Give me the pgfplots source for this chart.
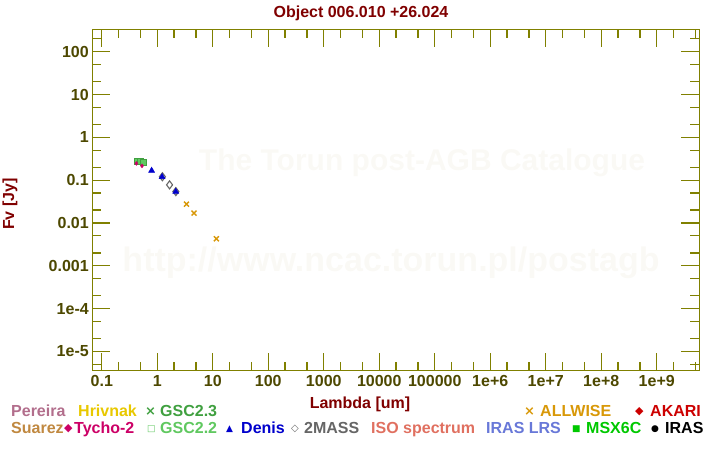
\documentclass[border=0pt]{standalone}
\usepackage{fontspec}
\setmainfont{Liberation Sans}
\newfontfamily\symfont{DejaVu Sans}
\usepackage{pgfplots}
\pgfplotsset{compat=1.18}
\definecolor{axcol}{RGB}{128,128,0}
\definecolor{tickcol}{RGB}{77,72,0}
\definecolor{darkred}{RGB}{128,0,0}
\definecolor{wmcol}{RGB}{250,249,245}
\definecolor{cPereira}{RGB}{178,110,140}
\definecolor{cHrivnak}{RGB}{232,200,0}
\definecolor{cGSCiii}{RGB}{64,160,64}
\definecolor{cSuarez}{RGB}{192,136,64}
\definecolor{cTycho}{RGB}{204,0,102}
\definecolor{cGSCii}{RGB}{96,200,96}
\definecolor{cDenis}{RGB}{0,0,204}
\definecolor{cTwoMASS}{RGB}{102,102,102}
\definecolor{cISO}{RGB}{224,112,96}
\definecolor{cLRS}{RGB}{104,120,216}
\definecolor{cMSX}{RGB}{0,200,0}
\definecolor{cIRAS}{RGB}{0,0,0}
\definecolor{cWISE}{RGB}{216,152,8}
\definecolor{cAKARI}{RGB}{204,0,0}
\newcommand{\lf}{\fontsize{16}{16}\selectfont\bfseries}
\begin{document}
\begin{tikzpicture}[x=1pt,y=1pt]
\path[use as bounding box] (0,0) rectangle (720,450);
% watermark
\node[text=wmcol, font=\fontsize{30}{30}\selectfont\bfseries] at (422,287) {The Torun post-AGB Catalogue};
\node[text=wmcol, font=\fontsize{34}{34}\selectfont\bfseries] at (391,187) {http://www.ncac.torun.pl/postagb};
\begin{axis}[
  at={(92.3pt,79.3pt)}, anchor=south west,
  scale only axis, width=607pt, height=341.4pt,
  xmode=log, ymode=log,
  xmin=0.0674, xmax=5.85e9, ymin=3.55e-6, ymax=333,
  axis line style={axcol, line width=1.2pt},
  every tick/.style={axcol, line width=1.2pt},
  major tick length=18pt, minor tick length=9pt,
  tick align=inside,
  xtick={0.1,1,10,100,1000,10000,100000,1e6,1e7,1e8,1e9},
  xticklabels={0.1,1,10,100,1000,10000,100000,1e+6,1e+7,1e+8,1e+9},
  minor xtick={0.2,0.5,2,5,20,50,200,500,2000,5000,2e4,5e4,2e5,5e5,2e6,5e6,2e7,5e7,2e8,5e8,2e9,5e9},
  ytick={1e-5,1e-4,1e-3,1e-2,0.1,1,10,100},
  yticklabels={1e-5,1e-4,0.001,0.01,0.1,1,10,100},
  minor ytick={5e-6,2e-5,5e-5,2e-4,5e-4,2e-3,5e-3,0.02,0.05,0.2,0.5,2,5,20,50,200},
  /pgf/number format/assume math mode=true,
  tick label style={font=\lf, text=tickcol},
  xticklabel style={yshift=-1pt},
  clip=false,
]
\addplot[only marks, mark=x, mark size=3pt, cGSCiii, line width=1pt] coordinates {(0.44,0.285) (0.55,0.27)};
\addplot[only marks, mark=square*, mark size=3pt, draw=cGSCiii, fill=cGSCii] coordinates {(0.440,0.28) (0.498,0.28) (0.552,0.267)};
\addplot[only marks, mark=diamond*, mark size=2pt, cTycho] coordinates {(0.42,0.246) (0.53,0.215)};
\addplot[only marks, mark=diamond, mark size=4pt, draw=cTwoMASS, line width=1.1pt] coordinates {(1.235,0.12) (1.662,0.0776) (2.159,0.054)};
\addplot[only marks, mark=triangle*, mark size=3.5pt, cDenis] coordinates {(0.79,0.167) (1.22,0.119) (2.15,0.054)};
\addplot[only marks, mark=x, mark size=3.5pt, cWISE, line width=1.4pt] coordinates {(3.35,0.0275) (4.6,0.017) (11.6,0.00427)};
\end{axis}
% title and axis labels
\node[anchor=base, text=darkred, font=\lf] at (361,432) {Object 006.010 +26.024};
\node[anchor=base, text=darkred, font=\lf] at (360,42) {Lambda [um]};
\node[rotate=90, text=darkred, font=\lf] at (10,246) {Fv [Jy]};
% legend row 1
\node[anchor=base west, inner sep=0, text=cPereira, font=\lf] at (11,34) {Pereira};
\node[anchor=base west, inner sep=0, text=cHrivnak, font=\lf] at (78,34) {Hrivnak};
\node[anchor=base west, inner sep=0, text=cGSCiii, font=\symfont\fontsize{13}{13}\selectfont\bfseries] at (145,35) {×};
\node[anchor=base west, inner sep=0, text=cGSCiii, font=\lf] at (160,34) {GSC2.3};
\node[anchor=base west, inner sep=0, text=cWISE, font=\symfont\fontsize{13}{13}\selectfont\bfseries] at (524,35) {×};
\node[anchor=base west, inner sep=0, text=cWISE, font=\lf] at (540,34) {ALLWISE};
\node[anchor=base west, inner sep=0, text=cAKARI, font=\symfont\fontsize{11}{11}\selectfont] at (635,36) {◆};
\node[anchor=base west, inner sep=0, text=cAKARI, font=\lf] at (650,34) {AKARI};
% legend row 2
\node[anchor=base west, inner sep=0, text=cSuarez, font=\lf] at (11,17) {Suarez};
\node[anchor=base west, inner sep=0, text=cTycho, font=\symfont\fontsize{11}{11}\selectfont] at (64,19) {◆};
\node[anchor=base west, inner sep=0, text=cTycho, font=\lf] at (74,17) {Tycho-2};
\node[anchor=base west, inner sep=0, text=cGSCii, font=\symfont\fontsize{9}{9}\selectfont\bfseries] at (147,19) {□};
\node[anchor=base west, inner sep=0, text=cGSCii, font=\lf] at (160,17) {GSC2.2};
\node[anchor=base west, inner sep=0, text=cDenis, font=\symfont\fontsize{9}{9}\selectfont] at (226,19) {▲};
\node[anchor=base west, inner sep=0, text=cDenis, font=\lf] at (241,17) {Denis};
\node[anchor=base west, inner sep=0, text=cTwoMASS, font=\symfont\fontsize{10}{10}\selectfont] at (291,19) {◇};
\node[anchor=base west, inner sep=0, text=cTwoMASS, font=\lf] at (304,17) {2MASS};
\node[anchor=base west, inner sep=0, text=cISO, font=\lf] at (371,17) {ISO spectrum};
\node[anchor=base west, inner sep=0, text=cLRS, font=\lf] at (486,17) {IRAS LRS};
\node[anchor=base west, inner sep=0, text=cMSX, font=\symfont\fontsize{9}{9}\selectfont] at (572,19) {■};
\node[anchor=base west, inner sep=0, text=cMSX, font=\lf] at (586,17) {MSX6C};
\node[anchor=base west, inner sep=0, text=cIRAS, font=\symfont\fontsize{9}{9}\selectfont] at (651,19) {●};
\node[anchor=base west, inner sep=0, text=cIRAS, font=\lf] at (665,17) {IRAS};
\end{tikzpicture}
\end{document}
